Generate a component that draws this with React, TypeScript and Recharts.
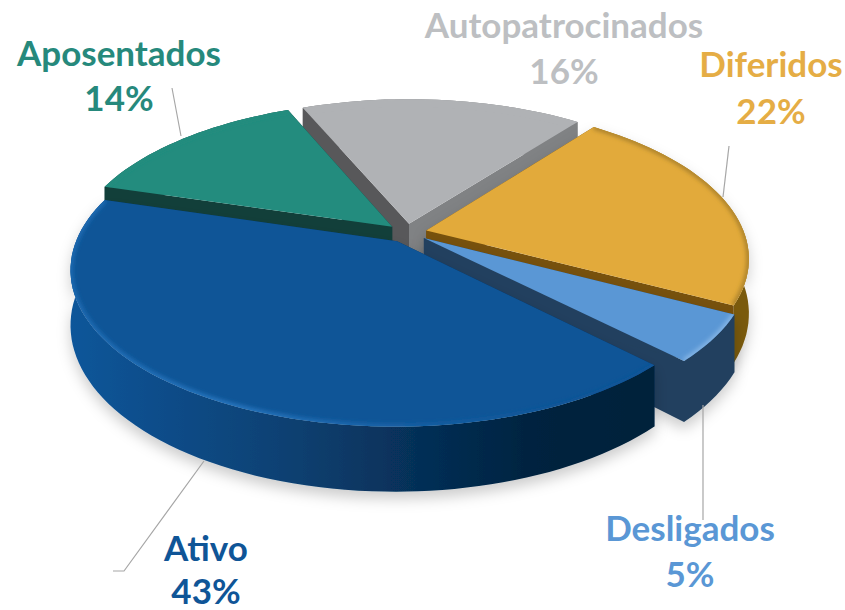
import React from 'react';
import { PieChart, Pie } from 'recharts';

const categories = ['Autopatrocinados', 'Diferidos', 'Desligados', 'Ativo', 'Aposentados'];
const shares = [16, 22, 5, 43, 14];

const chartData = categories.map((name, i) => ({ name, value: shares[i] }));

const topColors: Record<string, string> = {
  Autopatrocinados: '#b0b2b5',
  Diferidos: '#e2aa3b',
  Desligados: '#5a97d5',
  Ativo: '#0f5597',
  Aposentados: '#238c7e',
};
const textColors: Record<string, string> = {
  Autopatrocinados: '#bdbfc2',
  Diferidos: '#e5ad45',
  Desligados: '#5a97d5',
  Ativo: '#0f5597',
  Aposentados: '#26897c',
};
// cut faces: [clockwise end side, clockwise start side]
const cutColors: Record<string, string[]> = {
  Autopatrocinados: ['#808284', '#58585a'],
  Diferidos: ['#77510f', '#77510f'],
  Desligados: ['#24415e', '#24415e'],
  Ativo: ['#0a3560', '#0a3560'],
  Aposentados: ['#123f3a', '#123f3a'],
};
const wallStops: Record<string, string[]> = {
  Autopatrocinados: ['#5a5a5c', '#7c7e80'],
  Diferidos: ['#7a5a10', '#7a5a10'],
  Desligados: ['#24415e', '#24415e'],
  Ativo: ['#11569a', '#0c4a85', '#0a3f6f', '#062f57', '#03233f', '#03203a'],
  Aposentados: ['#123f3a', '#123f3a'],
};
const rimStops: Record<string, string[]> = {
  Autopatrocinados: ['#b0b2b5', '#b0b2b5'],
  Diferidos: ['#c2922f', '#a9802a'],
  Desligados: ['#86b6e6', '#86b6e6'],
  Ativo: ['#1f6cb4', '#2a7ac4', '#1a63a8', '#0f5597'],
  Aposentados: ['#238c7e', '#238c7e'],
};

// label placement: centre x, name baseline, value baseline
const labelSpots: Record<string, [number, number, number]> = {
  Autopatrocinados: [564, 38, 84],
  Diferidos: [771, 77, 124],
  Desligados: [690, 541, 587],
  Ativo: [206, 561, 604],
  Aposentados: [119, 66, 111],
};
const leaders: Record<string, string> = {
  Diferidos: '729,146 723,197',
  Desligados: '703,405 703,520',
  Ativo: '204,461 124,571 113,571',
  Aposentados: '172,88 181,136',
};

const RY = 0.47; // tilt
const K = 0.176; // perspective
const EXPLODE = 0.063;
const DEPTH = 53;
const WARP = 4; // Excel's 3D camera turns the right side slices a little

const makeSlice = (front: boolean) => (props: any) => {
  const { cx, cy, outerRadius: r, startAngle, endAngle } = props;
  const name = props.name ?? props.payload?.name;
  if ((name === 'Ativo') !== front) return <g />;
  const a0 = Math.min(startAngle, endAngle);
  const a1 = Math.max(startAngle, endAngle);
  const mid = ((a0 + a1) / 2) * (Math.PI / 180);
  const ox = EXPLODE * Math.cos(mid);
  const oy = -EXPLODE * Math.sin(mid);

  const pt = (deg: number, rf: number, z: number) => {
    let t = (deg * Math.PI) / 180;
    t -= (WARP * Math.sqrt(Math.max(Math.cos(t), 0)) * Math.PI) / 180;
    const u = rf * Math.cos(t) + ox;
    const v = -rf * Math.sin(t) + oy;
    const s = 1 / (1 - K * v);
    return `${(cx + r * u * s).toFixed(1)},${(cy + r * RY * v * s + z * s).toFixed(1)}`;
  };
  const arc = (z: number) => {
    const out: string[] = [];
    const n = Math.ceil((a1 - a0) / 2);
    for (let i = 0; i <= n; i++) out.push(pt(a0 + ((a1 - a0) * i) / n, 1, z));
    return out;
  };

  const top = arc(0);
  const bottom = arc(DEPTH);
  const apex = pt(0, 0, 0);
  const apexLow = pt(0, 0, DEPTH);
  const id = name.replace(/\W/g, '');
  const stops = wallStops[name];
  const rims = rimStops[name];
  const isBack = Math.sin(mid) > 0;

  const outerWall = <polygon points={[...top, ...[...bottom].reverse()].join(' ')} fill={`url(#wall${id})`} />;
  const cuts = (
    <>
      <polygon points={[apex, top[0], bottom[0], apexLow].join(' ')} fill={cutColors[name][0]} />
      <polygon
        points={[apex, top[top.length - 1], bottom[bottom.length - 1], apexLow].join(' ')}
        fill={cutColors[name][1]}
      />
    </>
  );
  const castsShadow = name === 'Ativo' || name === 'Desligados' || name === 'Diferidos';

  return (
    <g>
      <defs>
        <linearGradient id={`wall${id}`} gradientUnits="userSpaceOnUse" x1={70} x2={650} y1={0} y2={0}>
          {stops.map((c, i) => (
            <stop key={i} offset={i / (stops.length - 1)} stopColor={c} />
          ))}
        </linearGradient>
        <linearGradient id={`rim${id}`} gradientUnits="userSpaceOnUse" x1={70} x2={560} y1={0} y2={0}>
          {rims.map((c, i) => (
            <stop key={i} offset={i / (rims.length - 1)} stopColor={c} />
          ))}
        </linearGradient>
        <filter id={`shadow${id}`} x="-20%" y="-20%" width="140%" height="150%">
          <feDropShadow dx={0} dy={7} stdDeviation={7} floodColor="#000" floodOpacity={0.2} />
        </filter>
        <filter id={`blur${id}`} x="-10%" y="-10%" width="120%" height="120%">
          <feGaussianBlur stdDeviation={2} />
        </filter>
        <clipPath id={`clip${id}`}>
          <polygon points={[apex, ...top].join(' ')} />
        </clipPath>
      </defs>
      <g filter={castsShadow ? `url(#shadow${id})` : undefined}>
        {isBack ? outerWall : cuts}
        {isBack ? cuts : outerWall}
      </g>
      <polygon points={[apex, ...top].join(' ')} fill={topColors[name]} />
      <g clipPath={`url(#clip${id})`}>
        <polyline
          points={top.join(' ')}
          fill="none"
          stroke={`url(#rim${id})`}
          strokeWidth={5}
          filter={`url(#blur${id})`}
        />
      </g>
    </g>
  );
};

const renderLabel = (props: any) => {
  const name = props.name ?? props.payload?.name;
  const [x, y1, y2] = labelSpots[name];
  const style = { fontFamily: 'Lato', fontWeight: 700, fontSize: 35 };
  return (
    <g>
      {leaders[name] && <polyline points={leaders[name]} fill="none" stroke="#a6a6a6" strokeWidth={1.2} />}
      <text x={x} y={y1} textAnchor="middle" fill={textColors[name]} style={style}>
        {name}
      </text>
      <text x={x} y={y2} textAnchor="middle" fill={textColors[name]} style={style}>
        {`${props.value}%`}
      </text>
    </g>
  );
};

export default function App() {
  return (
    <div style={{ position: 'absolute', left: 0, top: 0, width: 845, height: 610, background: '#fff' }}>
      <PieChart width={845} height={610} margin={{ top: 0, right: 0, bottom: 0, left: 0 }} accessibilityLayer={false}>
        <Pie
          data={chartData}
          dataKey="value"
          nameKey="name"
          cx={407}
          cy={233}
          outerRadius={318}
          startAngle={113}
          endAngle={-247}
          stroke="none"
          isAnimationActive={false}
          shape={makeSlice(false)}
          label={renderLabel}
          labelLine={false}
        />
        <Pie
          data={chartData}
          dataKey="value"
          nameKey="name"
          cx={407}
          cy={233}
          outerRadius={318}
          startAngle={113}
          endAngle={-247}
          stroke="none"
          isAnimationActive={false}
          shape={makeSlice(true)}
        />
      </PieChart>
    </div>
  );
}
